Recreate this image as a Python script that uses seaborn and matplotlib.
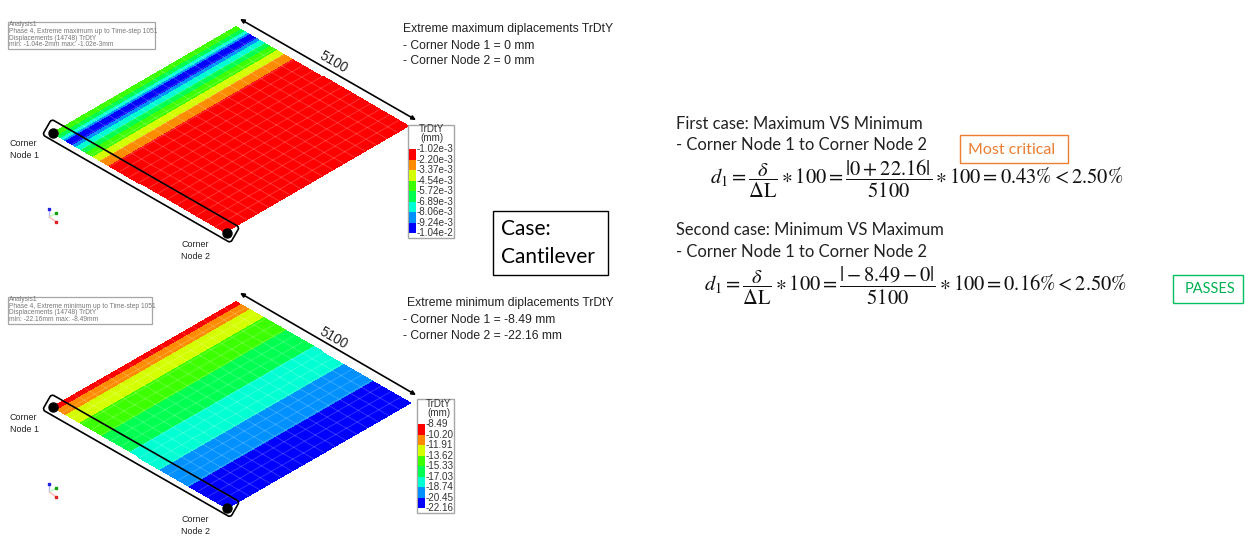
#!/usr/bin/env python3
# Cantilever deflection check: two FE contour plates plus the hand calculation
import numpy as np
import matplotlib
matplotlib.use("Agg")
import matplotlib.pyplot as plt
from matplotlib.colors import ListedColormap
from matplotlib.patches import FancyBboxPatch, Rectangle
from matplotlib.transforms import Affine2D
import seaborn as sns

# ---------- data ----------
contour_colors = ["#ff0000", "#ff8c00", "#d4ff00", "#3cff00",
                  "#00ff50", "#00ffd2", "#0090ff", "#0000ff"]

# band index and width (% of the 5100 side) going from the Node 1 side to Node 2
max_bands = [3, 4, 5, 6, 7, 6, 5, 4, 3, 2, 1, 0]
max_cells = [3, 2, 2, 1, 4, 2, 3, 3, 4, 4, 5, 67]
min_bands = [0, 1, 2, 3, 4, 5, 6, 7]
min_cells = [3, 5, 8, 13, 16, 17, 17, 21]

max_legend = ["-1.02e-3", "-2.20e-3", "-3.37e-3", "-4.54e-3", "-5.72e-3",
              "-6.89e-3", "-8.06e-3", "-9.24e-3", "-1.04e-2"]
min_legend = ["-8.49", "-10.20", "-11.91", "-13.62", "-15.33",
              "-17.03", "-18.74", "-20.45", "-22.16"]

max_info = ["Analysis1", "Phase 4, Extreme maximum up to Time-step 1051",
            "Displacements (14748) TrDtY", "min: -1.04e-2mm max: -1.02e-3mm"]
min_info = ["Analysis1", "Phase 4, Extreme minimum up to Time-step 1051",
            "Displacements (14748) TrDtY", "min: -22.16mm max: -8.49mm"]

max_notes = ["Extreme maximum diplacements TrDtY",
             "- Corner Node 1 = 0 mm", "- Corner Node 2 = 0 mm"]
min_notes = ["Extreme minimum diplacements TrDtY",
             "- Corner Node 1 = -8.49 mm", "- Corner Node 2 = -22.16 mm"]

first_eq = (r"$d_1 = \dfrac{\delta}{\Delta\mathrm{L}} \ast 100 = "
            r"\dfrac{|0 + 22.16|}{5100} \ast 100 = 0.43\% < 2.50\%$")
second_eq = (r"$d_1 = \dfrac{\delta}{\Delta\mathrm{L}} \ast 100 = "
             r"\dfrac{|-8.49 - 0|}{5100} \ast 100 = 0.16\% < 2.50\%$")

GRID_ACROSS = 18
GRID_ALONG = 17

sns.set_theme(style="white")
plt.rcParams["font.family"] = ["Liberation Sans", "DejaVu Sans"]
plt.rcParams["mathtext.fontset"] = "stix"

fig = plt.figure(figsize=(12.55, 5.58), dpi=100)
ax = fig.add_axes([0, 0, 1, 1])
cmap = ListedColormap(contour_colors)


def plate_transform(node1, node2, top, ncols):
    # cell coords (0..ncols, 0..1) -> picture pixels
    a = (np.array(node2) - node1) / ncols
    b = np.array(top) - node1
    return Affine2D(np.array([[a[0], b[0], node1[0]],
                              [a[1], b[1], node1[1]],
                              [0, 0, 1]])) + ax.transData


def draw_plate(bands, cells, node1, node2, top):
    row = np.repeat(bands, cells).reshape(1, -1)
    sns.heatmap(row, ax=ax, cmap=cmap, vmin=0, vmax=7, cbar=False,
                xticklabels=False, yticklabels=False)
    trans = plate_transform(node1, node2, top, row.shape[1])
    mesh = ax.collections[-1]
    mesh.set_transform(trans)
    mesh.set_antialiased(True)
    mesh.set_edgecolor("face")
    mesh.set_linewidth(0.3)
    # element grid
    for i in range(1, GRID_ACROSS):
        x = i * row.shape[1] / GRID_ACROSS
        ax.plot([x, x], [0, 1], color="white", alpha=0.2, lw=0.7, transform=trans)
    for j in range(1, GRID_ALONG):
        ax.plot([0, row.shape[1]], [j / GRID_ALONG] * 2, color="white", alpha=0.2,
                lw=0.7, transform=trans)


def draw_legend(labels, box, sw_x, sw_top, sw_bottom, title_x, title_y):
    x0, y0, x1, y1 = box
    ax.add_patch(Rectangle((x0, y0), x1 - x0, y1 - y0, fc="white", ec="#a6a6a6", lw=1, zorder=1))
    ids = np.arange(8).reshape(-1, 1)
    sns.heatmap(ids, ax=ax, cmap=cmap, vmin=0, vmax=7, cbar=False,
                xticklabels=False, yticklabels=False)
    mesh = ax.collections[-1]
    mesh.set_zorder(2)
    h = (sw_bottom - sw_top) / 8
    mesh.set_transform(Affine2D(np.array([[7.3, 0, sw_x], [0, h, sw_top], [0, 0, 1]])) + ax.transData)
    ax.text(title_x, title_y, "TrDtY", ha="center", va="center", fontsize=7.1, color="#333333")
    ax.text(title_x, title_y + 9.5, "(mm)", ha="center", va="center", fontsize=7.1, color="#333333")
    for k, lab in enumerate(labels):
        ax.text(sw_x + 8, sw_top + k * h, lab, ha="left", va="center", fontsize=7.1, color="#333333")


def draw_info(lines, box, ys):
    x0, y0, x1, y1 = box
    ax.add_patch(Rectangle((x0, y0), x1 - x0, y1 - y0, fc="white", ec="#a6a6a6", lw=0.9))
    for line, y in zip(lines, ys):
        ax.text(x0 + 1, y, line, ha="left", va="center", fontsize=4.75, color="#777777")


def node_box(p, q):
    length = np.hypot(q[0] - p[0], q[1] - p[1])
    angle = np.degrees(np.arctan2(q[1] - p[1], q[0] - p[0]))
    ax.add_patch(FancyBboxPatch((0, -9), length, 18, boxstyle="round,pad=0,rounding_size=3",
                                fc="none", ec="black", lw=1.2, zorder=4,
                                transform=Affine2D().rotate_deg(angle).translate(*p) + ax.transData))


def triad(x, y):
    for dx, dy, col, tip in [(0, -8, "#b9b9ff", "#2020e0"), (7, -4, "#b9ffb9", "#10a010"),
                             (7, 5, "#ffb9b9", "#e02020")]:
        ax.plot([x, x + dx], [y, y + dy], color=col, lw=1)
        ax.plot(x + dx, y + dy, "s", color=tip, ms=1.8)


def dim_arrow(start, end, y_label):
    ax.annotate("", xy=end, xytext=start,
                arrowprops=dict(arrowstyle="<|-|>", color="black", lw=1.2, mutation_scale=6,
                                shrinkA=0, shrinkB=0))
    ax.text(333, y_label, "5100", rotation=-30, ha="center", va="center",
            rotation_mode="anchor", fontsize=9.8, color="#222222")


# ---------- left column: contour plates ----------
draw_plate(max_bands, max_cells, (53, 133), (225, 232), (236, 27))
draw_plate(min_bands, min_cells, (53, 407), (227, 508), (236, 302))

draw_legend(max_legend, (407.5, 124.5, 454, 238), 408.7, 149.3, 233, 431.5, 128.5)
draw_legend(min_legend, (416.7, 399, 454, 513), 417.7, 424, 508.3, 439, 404)
draw_info(max_info, (8, 22, 155, 49), [25, 31.3, 38, 44.7])
draw_info(min_info, (8, 297, 152, 324), [299.5, 306, 313, 319.7])

node_box((47, 127), (235, 235))
node_box((47, 402), (235, 509.5))
ax.plot([53, 227], [133, 233], "o", color="black", ms=6.5, ls="none", zorder=5)
ax.plot([53, 227], [407, 507.5], "o", color="black", ms=6.5, ls="none", zorder=5)

dim_arrow((240, 19), (416, 120), 62)
dim_arrow((240, 293), (416, 395), 338)
triad(49.3, 217)
triad(49.3, 492)

for x, y, lines in [(10, 143, ("Corner", "Node 1")), (181, 244.5, ("Corner", "Node 2")),
                    (10, 418, ("Corner", "Node 1")), (181, 519, ("Corner", "Node 2"))]:
    ax.text(x, y, lines[0], ha="left", va="center", fontsize=6.4, color="#222222")
    ax.text(x, y + 12, lines[1], ha="left", va="center", fontsize=6.4, color="#222222")

for line, x, y in zip(max_notes, (403, 403, 403), (29, 46, 61)):
    ax.text(x, y, line, ha="left", va="center", fontsize=8.75, color="#222222")
for line, x, y in zip(min_notes, (407, 403, 403), (303, 320, 336)):
    ax.text(x, y, line, ha="left", va="center", fontsize=8.75, color="#222222")

# ---------- right column: hand calculation ----------
body = ["Lato", "DejaVu Sans"]
ax.add_patch(Rectangle((493, 211), 115, 64, fc="white", ec="black", lw=1))
ax.text(501, 229, "Case:", family=body, fontsize=15, ha="left", va="center", color="black")
ax.text(501, 257, "Cantilever", family=body, fontsize=15, ha="left", va="center", color="black")

for text, y in [("First case: Maximum VS Minimum", 124), ("- Corner Node 1 to Corner Node 2", 145),
                ("Second case: Minimum VS Maximum", 230), ("- Corner Node 1 to Corner Node 2", 252)]:
    ax.text(676, y, text, family=body, fontsize=11.9, ha="left", va="center", color="#222222")
ax.text(710, 179, first_eq, fontsize=14.8, ha="left", va="center", color="#111111")
ax.text(704, 286, second_eq, fontsize=14.8, ha="left", va="center", color="#111111")

ax.add_patch(Rectangle((960, 135), 108, 28, fc="white", ec="#ed7d31", lw=1))
ax.text(1012, 149.5, "Most critical", family=body, fontsize=11.5, ha="center", va="center", color="#ed7d31")
ax.add_patch(Rectangle((1173, 275), 70, 28, fc="white", ec="#00c060", lw=1))
ax.text(1210, 289, "PASSES", family=body, fontsize=10.5, ha="center", va="center", color="#00b050")

ax.set_xlim(0, 1255)
ax.set_ylim(558, 0)
ax.axis("off")

fig.savefig("out.png", dpi=100, facecolor="white")
